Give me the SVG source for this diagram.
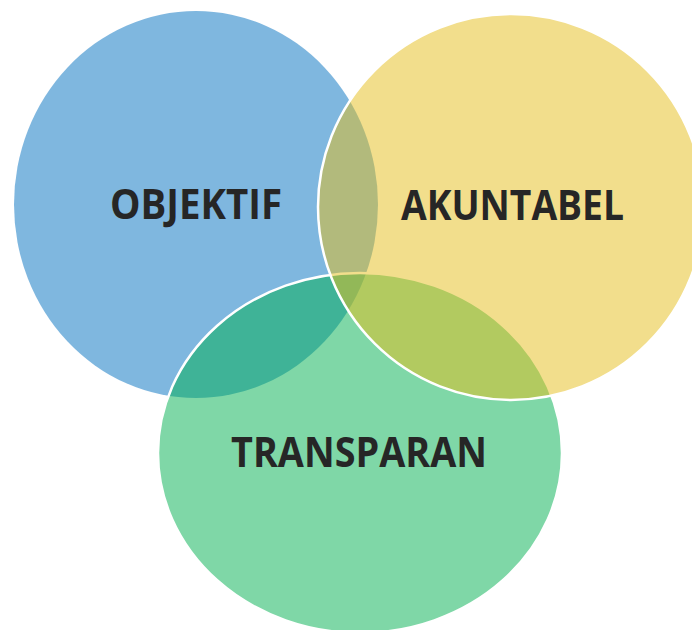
<svg xmlns="http://www.w3.org/2000/svg" width="692" height="630" viewBox="0 0 692 630">
<style>
.c{fill-opacity:0.5}
.s{stroke:#FFFFFF;stroke-width:2.5}
.t{font-family:"Open Sans","Liberation Sans",sans-serif;font-weight:bold;font-size:42px;fill:#262626;text-anchor:middle}
</style>
<rect width="692" height="630" fill="#FFFFFF"/>
<g id="objektif">
<ellipse class="c" cx="196" cy="204.5" rx="182" ry="193.5" fill="#0070C0"/>
</g>
<g id="transparan">
<ellipse class="c s" cx="360" cy="453" rx="202" ry="180" fill="#00B050"/>
</g>
<g id="akuntabel">
<ellipse class="c s" cx="511" cy="207" rx="193" ry="193" fill="#E5BD19"/>
</g>
<g id="labels">
<text class="t" x="196" y="219" textLength="172" lengthAdjust="spacingAndGlyphs">OBJEKTIF</text>
<text class="t" x="512.5" y="220" textLength="223" lengthAdjust="spacingAndGlyphs">AKUNTABEL</text>
<text class="t" x="359" y="467" textLength="256" lengthAdjust="spacingAndGlyphs">TRANSPARAN</text>
</g>
<g id="connectors"/>
</svg>
